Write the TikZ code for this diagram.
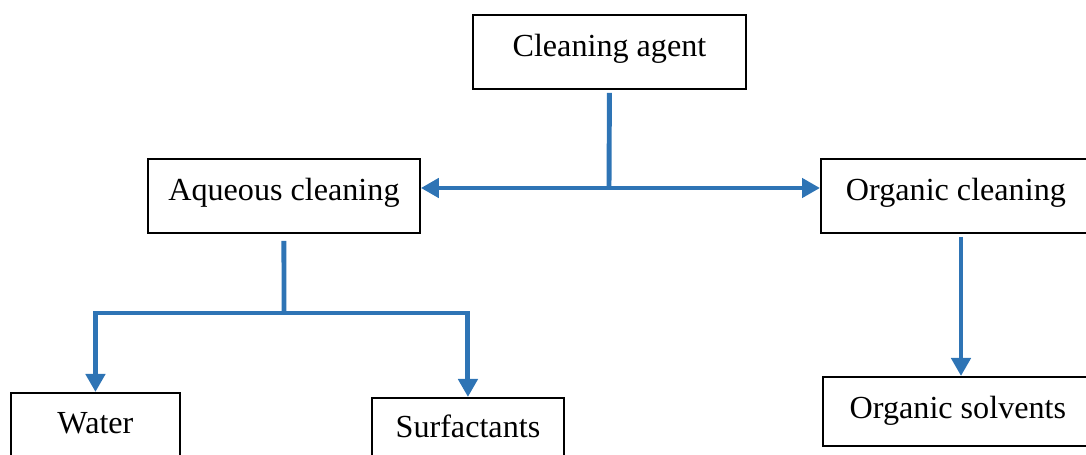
\documentclass[tikz,border=0pt]{standalone}
\usepackage{fontspec}
\setmainfont{Liberation Serif}
\usetikzlibrary{arrows.meta}
\definecolor{flowblue}{RGB}{46,116,181}
\tikzset{
  box/.style={draw=black,line width=1.1pt,inner sep=0pt,anchor=north west,text height=0.84cm,text depth=0.64cm,font=\fontsize{18.3}{22}\selectfont},
  link/.style={draw=flowblue,line width=2.8pt},
  flow/.style={link,-{Triangle[length=0.36cm,width=0.38cm]}}
}

\begin{document}
\begin{tikzpicture}[x=0.02cm,y=-0.02cm]
  \useasboundingbox (0,0) rectangle (1086,455);
  \node[box,minimum width=5.46cm] (agent) at (472,14) {Cleaning agent};
  \node[box,minimum width=5.44cm] (aqueous) at (147,158) {Aqueous cleaning};
  \node[box,minimum width=5.4cm] (organic) at (820,158) {Organic cleaning};
  \node[box,minimum width=5.4cm,text depth=0.54cm] (solvents) at (822,376) {Organic solvents};
  \node[box,minimum width=3.38cm,text height=0.82cm,text depth=0.8cm] (water) at (10,392) {Water};
  \node[box,minimum width=3.84cm,text height=0.8cm,text depth=0.8cm] (surf) at (371,397) {Surfactants};
  \coordinate (agentjoin) at (609,188); \coordinate (aqjoin) at (284,313);
  \coordinate (orgjoin) at (961,237);
  \draw[link] ([yshift=-0.06cm]agent.south) -- (agentjoin);
  \draw[flow] (agentjoin) -- (aqueous.east |- agentjoin);
  \draw[flow] (agentjoin) -- (organic.west |- agentjoin);
  \draw[link] ([yshift=-0.14cm]aqueous.south) -- (aqjoin);
  \draw[flow] (aqjoin) -| (water.north);
  \draw[flow] (aqjoin) -| (surf.north);
  \draw[flow] (orgjoin) -- (orgjoin |- solvents.north);
\end{tikzpicture}
\end{document}
